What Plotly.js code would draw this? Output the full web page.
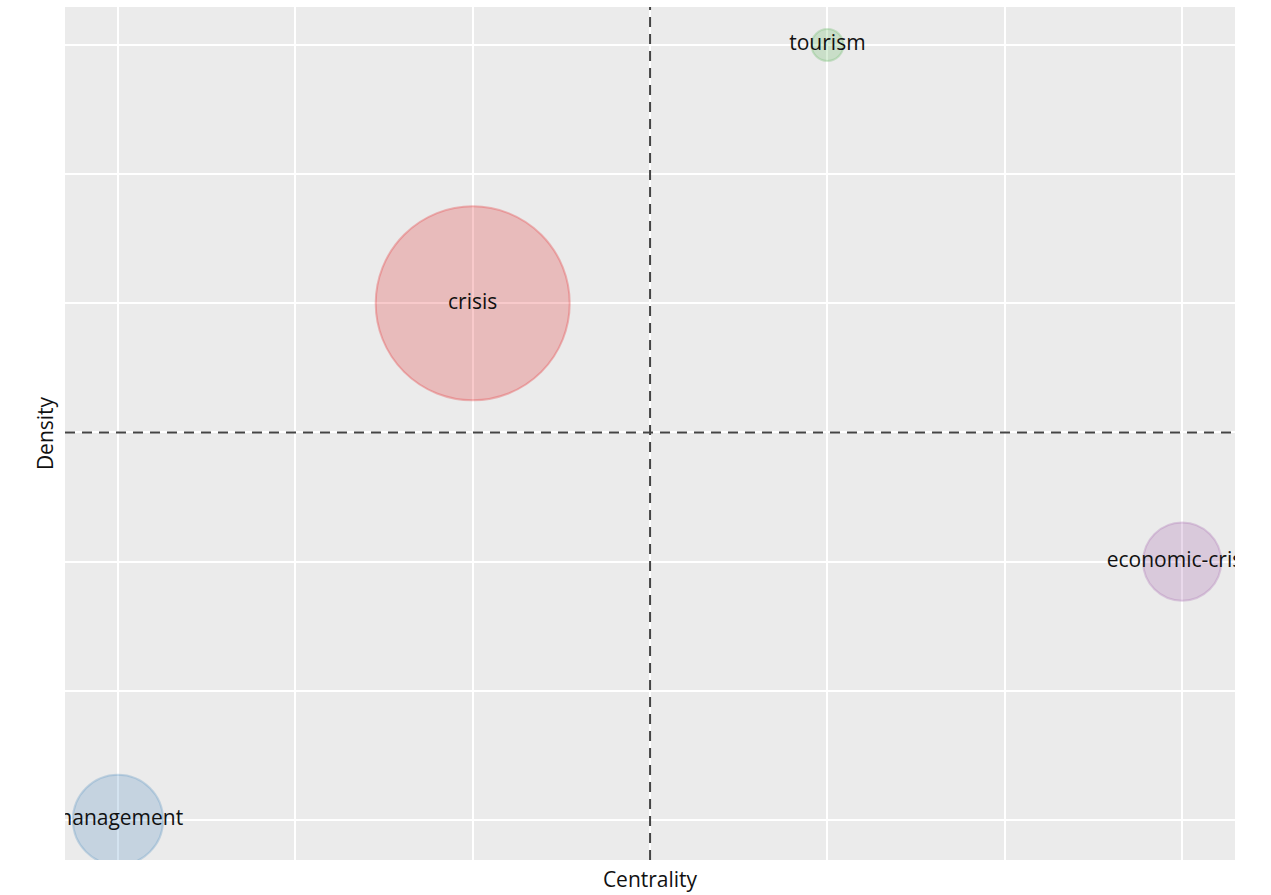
<!DOCTYPE html>
<html>
<head>
<meta charset="utf-8">
<script src="https://cdn.plot.ly/plotly-3.0.1.min.js"></script>
<style>html,body{margin:0;padding:0;background:#fff;}#chart{width:1271px;height:895px;}</style>
</head>
<body>
<div id="chart"></div>
<script>
// Data
var themes = ["management", "crisis", "tourism", "economic-crisis"];
var centrality = [1, 2, 3, 4];
var density = [1, 3, 4, 2];
var frequency = [8, 37, 1, 6];
var fillColors = ["rgba(55,126,184,0.3)", "rgba(228,26,28,0.32)", "rgba(77,175,74,0.3)", "rgba(152,78,163,0.3)"];
var lineColors = ["rgba(55,126,184,0.35)", "rgba(228,26,28,0.4)", "rgba(77,175,74,0.35)", "rgba(152,78,163,0.35)"];
var centralityMid = 2.5;
var densityMid = 2.5;

var trace = {
  type: "scatter",
  mode: "markers+text",
  x: centrality,
  y: density,
  text: themes,
  textposition: "middle center",
  textfont: {family: "Open Sans, Noto Sans, sans-serif", size: 21, color: "#111"},
  marker: {
    size: frequency,
    sizemode: "area",
    sizeref: 2 * 37 / (194 * 194),
    color: fillColors,
    line: {color: lineColors, width: 2}
  },
  cliponaxis: true,
  hoverinfo: "skip",
  showlegend: false
};

var layout = {
  width: 1271,
  height: 895,
  margin: {l: 65, r: 36, t: 7, b: 35, pad: 0},
  paper_bgcolor: "#ffffff",
  plot_bgcolor: "#EBEBEB",
  font: {family: "Open Sans, Noto Sans, sans-serif", size: 21, color: "#111"},
  xaxis: {
    range: [0.8506, 4.149],
    tick0: 1, dtick: 0.5,
    showticklabels: false, ticks: "",
    showgrid: true, gridcolor: "#ffffff", gridwidth: 2,
    zeroline: false, showline: false,
    title: {text: "Centrality", font: {size: 21, color: "#111"}, standoff: 12}
  },
  yaxis: {
    range: [0.845, 4.147],
    tick0: 1, dtick: 0.5,
    showticklabels: false, ticks: "",
    showgrid: true, gridcolor: "#ffffff", gridwidth: 2,
    zeroline: false, showline: false,
    title: {text: "Density", font: {size: 21, color: "#111"}, standoff: 4}
  },
  shapes: [
    {type: "line", xref: "x", yref: "paper", x0: centralityMid, x1: centralityMid, y0: 0, y1: 1,
     line: {color: "#444", width: 2, dash: "10px,7px"}, layer: "above"},
    {type: "line", xref: "paper", yref: "y", x0: 0, x1: 1, y0: densityMid, y1: densityMid,
     line: {color: "#444", width: 2, dash: "10px,7px"}, layer: "above"}
  ],
  hovermode: false
};

Plotly.newPlot("chart", [trace], layout, {displayModeBar: false, staticPlot: true});
</script>
</body>
</html>
